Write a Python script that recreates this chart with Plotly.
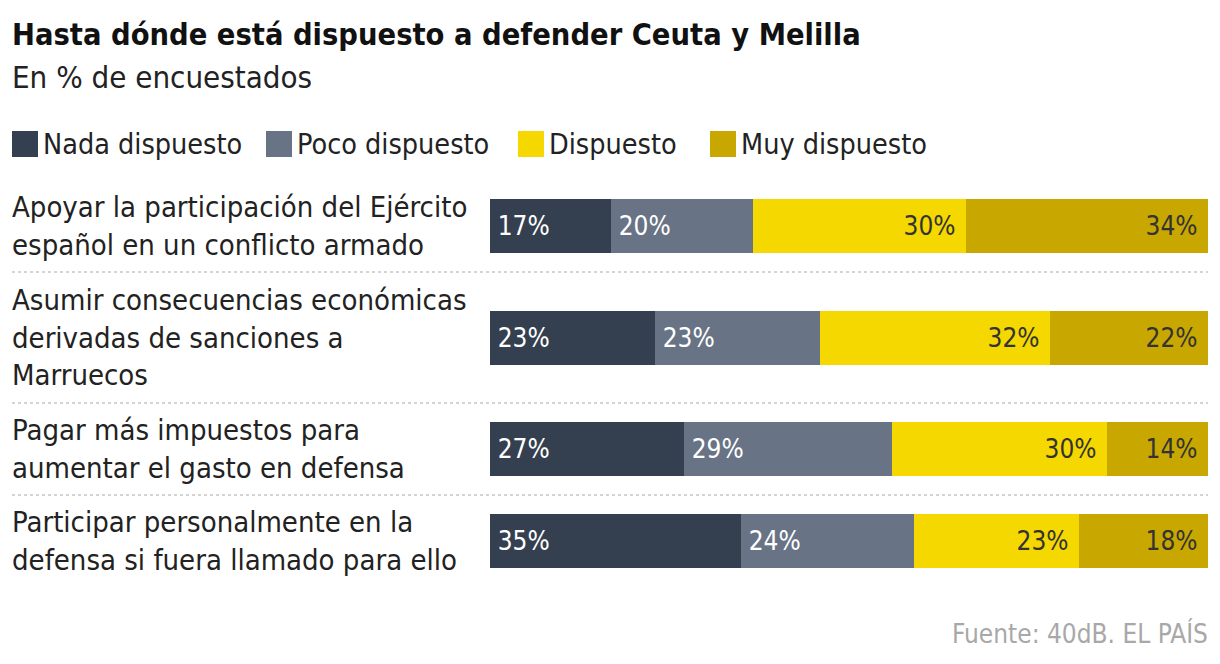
import plotly.graph_objects as go

W, H = 1220, 664
OFF = 8  # page body margin around the plot div
FW, FH = W - 2 * OFF, H - 2 * OFF
FONT = "Liberation Sans Narrow, DejaVu Sans Condensed, sans-serif"

title = "Hasta dónde está dispuesto a defender Ceuta y Melilla"
subtitle = "En % de encuestados"
source = "Fuente: 40dB. EL PAÍS"

categories = [
    "Apoyar la participación del Ejército<br>español en un conflicto armado",
    "Asumir consecuencias económicas<br>derivadas de sanciones a<br>Marruecos",
    "Pagar más impuestos para<br>aumentar el gasto en defensa",
    "Participar personalmente en la<br>defensa si fuera llamado para ello",
]
series_names = ["Nada dispuesto", "Poco dispuesto", "Dispuesto", "Muy dispuesto"]
nada = [17, 23, 27, 35]
poco = [20, 23, 29, 24]
dispuesto = [30, 32, 30, 23]
muy = [34, 22, 14, 18]

colors = ["#343f50", "#687385", "#f5d800", "#c8a800"]
text_colors = ["#ffffff", "#ffffff", "#333333", "#333333"]
anchors = ["start", "start", "end", "end"]

# row layout in page pixels, y grows downward
TOP = 180
LINE_H = 39
ROW_PAD = 14
BAR_H = 54


def px_x(p):
    return (p - OFF) / FW


rows = []
y = TOP
for cat in categories:
    h = ROW_PAD + LINE_H * (cat.count("<br>") + 1)
    rows.append((y, y + h))
    y += h
centers = [(a + b) / 2 for a, b in rows]


def pad_text(v, anchor):
    # a little breathing room from the bar edge
    return f"\u2009{v}%" if anchor == "start" else f"{v}%\u00a0"


fig = go.Figure()
for name, vals, col, tcol, anc in zip(
    series_names, [nada, poco, dispuesto, muy], colors, text_colors, anchors
):
    fig.add_trace(
        go.Bar(
            x=vals,
            y=centers,
            orientation="h",
            width=BAR_H,
            name=name,
            marker=dict(color=col, line=dict(width=0)),
            text=[pad_text(v, anc) for v in vals],
            textposition="inside",
            insidetextanchor=anc,
            textangle=0,
            constraintext="none",
            textfont=dict(family=FONT, size=26, color=tcol),
            hoverinfo="skip",
            showlegend=False,
        )
    )

annotations = [
    dict(text=f"<b>{title}</b>", x=px_x(10), y=34, xanchor="left", yanchor="middle",
         font=dict(family=FONT, size=30.5, color="#111111")),
    dict(text=subtitle, x=px_x(10), y=77, xanchor="left", yanchor="middle",
         font=dict(family=FONT, size=31, color="#222222")),
    dict(text=source, x=px_x(1210), y=633, xanchor="right", yanchor="middle",
         font=dict(family=FONT, size=26, color="#a8a8a8")),
]
for cat, c in zip(categories, centers):
    annotations.append(
        dict(text=cat, x=px_x(10), y=c, xanchor="left", yanchor="middle", align="left",
             font=dict(family=FONT, size=29, color="#222222"))
    )

shapes = []
# separators between rows
for a, b in rows[:-1]:
    shapes.append(dict(type="line", xref="paper", yref="y", x0=px_x(12), x1=px_x(1208),
                       y0=b, y1=b, line=dict(color="#d4d4d4", width=2, dash="dot")))

# legend drawn by hand
legend_x = [12, 266, 518, 710]
for name, col, lx in zip(series_names, colors, legend_x):
    shapes.append(dict(type="rect", xref="paper", yref="y", x0=px_x(lx), x1=px_x(lx + 26),
                       y0=131, y1=157, fillcolor=col, line=dict(width=0)))
    annotations.append(dict(text=name, x=px_x(lx + 29), y=144, xanchor="left", yanchor="middle",
                            font=dict(family=FONT, size=28.5, color="#222222")))

for a in annotations:
    a.setdefault("xref", "paper")
    a.setdefault("yref", "y")
    a.setdefault("showarrow", False)

fig.update_layout(
    width=FW,
    height=FH,
    barmode="stack",
    barnorm="percent",
    bargap=0,
    margin=dict(l=0, r=0, t=0, b=0),
    paper_bgcolor="white",
    plot_bgcolor="white",
    annotations=annotations,
    shapes=shapes,
    xaxis=dict(domain=[px_x(490), px_x(1208)], range=[0, 100], visible=False, fixedrange=True),
    yaxis=dict(domain=[0, 1], range=[OFF + FH, OFF], visible=False, fixedrange=True),
)

fig.write_html("out.html")
